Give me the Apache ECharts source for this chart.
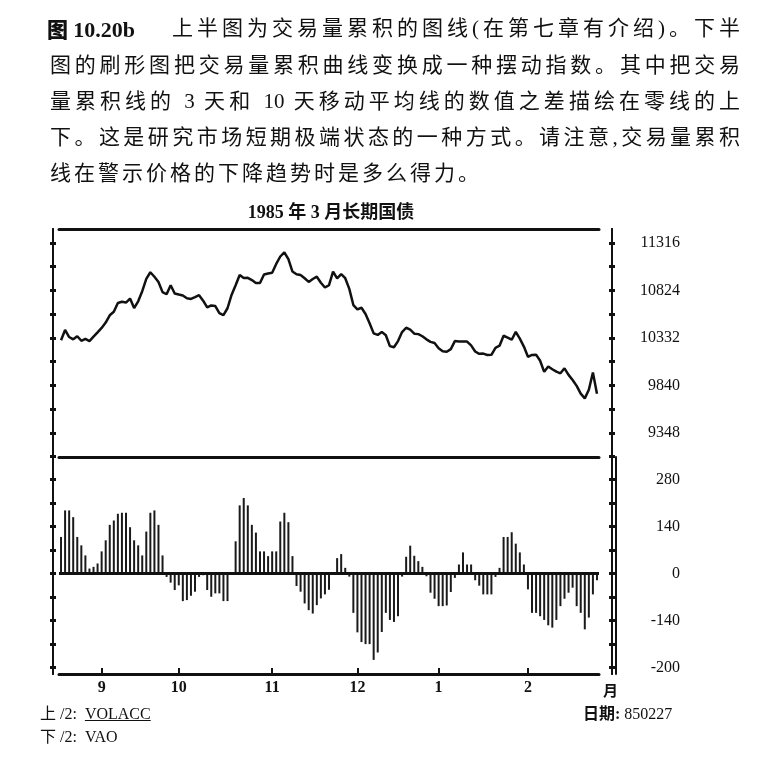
<!DOCTYPE html>
<html>
<head>
<meta charset="utf-8">
<script src="https://cdn.jsdelivr.net/npm/echarts@6/dist/echarts.min.js"></script>
<style>
body{margin:0;background:#fff;}
#wrap{position:relative;width:774px;height:770px;overflow:hidden;}
#chart{position:absolute;left:0;top:0;width:774px;height:770px;}
.cap{position:absolute;left:50px;width:690px;height:30px;line-height:30px;font-size:21px;color:#111;
  font-family:"Liberation Serif","Noto Sans CJK SC",serif;text-align:justify;text-align-last:justify;}
.ft{position:absolute;font-size:16px;line-height:22px;color:#111;font-family:"Liberation Serif","Noto Sans CJK SC",serif;}
</style>
</head>
<body>
<div id="wrap">
  <div id="chart"></div>
  <div class="cap" style="top:13px;left:47px;width:124px;text-align:left;text-align-last:left"><b style="font-family:'Noto Sans CJK SC';font-weight:900">图</b> <b style="font-size:22px">10.20b</b></div>
  <div class="cap" style="top:13px;left:172px;width:568px">上半图为交易量累积的图线(在第七章有介绍)。下半</div>
  <div class="cap" style="top:50px">图的刷形图把交易量累积曲线变换成一种摆动指数。其中把交易</div>
  <div class="cap" style="top:86px">量累积线的 3 天和 10 天移动平均线的数值之差描绘在零线的上</div>
  <div class="cap" style="top:122px">下。这是研究市场短期极端状态的一种方式。请注意,交易量累积</div>
  <div class="cap" style="top:158px;text-align:left;text-align-last:left;letter-spacing:3px">线在警示价格的下降趋势时是多么得力。</div>
  <div class="ft" style="top:703px;left:40px">上 /2:&nbsp; <u>VOLACC</u></div>
  <div class="ft" style="top:726px;left:40px">下 /2:&nbsp; VAO</div>
  <div class="ft" style="top:703px;left:583px"><b>日期:</b> 850227</div>
</div>
<script>
/* 交易日 (1984-08-20 ~ 1985-02-27) */
var holidays = ['1984-09-03','1984-11-22','1984-12-25','1985-01-01','1985-02-18'];
var days = [];
for (var t = Date.UTC(1984,7,20); t <= Date.UTC(1985,1,27); t += 86400000) {
  var d = new Date(t), s = d.toISOString().slice(0,10);
  if (d.getUTCDay() === 0 || d.getUTCDay() === 6 || holidays.indexOf(s) >= 0) continue;
  days.push(s);
}

/* 上半图: 交易量累积 VOLACC */
var volacc = [
  10308,10415,10342,10318,10350,10303,10322,10300,10345,10390,
  10436,10492,10567,10603,10695,10707,10699,10740,10642,10712,
  10817,10945,11013,10966,10911,10807,10785,10879,10793,10782,
  10772,10743,10736,10755,10775,10718,10648,10669,10663,10590,
  10568,10640,10778,10878,10985,10954,10955,10932,10902,10902,
  10990,11000,11007,11099,11176,11220,11148,11020,10992,10984,
  10951,10913,10943,10967,10904,10855,10880,11020,10950,10994,
  10951,10841,10673,10629,10645,10580,10485,10380,10364,10395,
  10360,10248,10236,10300,10393,10438,10418,10377,10372,10350,
  10318,10292,10280,10226,10195,10190,10217,10300,10295,10295,
  10295,10255,10192,10168,10170,10156,10157,10230,10252,10355,
  10336,10314,10395,10325,10243,10137,10156,10159,10096,9981,
  10037,10008,9983,9966,10018,9950,9897,9836,9755,9706,
  9795,9975,9755
];

/* 下半图: VAO 摆动指数 */
var vao = [
  109,188,188,168,109,84,54,15,20,30,
  66,99,145,158,178,181,181,138,99,84,
  54,125,181,188,145,54,-10,-27,-49,-35,
  -82,-79,-66,-54,-10,-5,-49,-69,-59,-59,
  -82,-82,-3,96,203,225,203,145,122,66,
  66,52,66,66,155,181,153,52,-37,-54,
  -89,-109,-119,-94,-74,-62,-48,3,46,58,
  17,-9,-117,-175,-204,-210,-210,-257,-235,-174,
  -117,-138,-144,-127,-9,50,83,53,37,20,
  -8,-57,-75,-97,-97,-95,-55,-13,27,63,
  27,27,-20,-36,-62,-62,-62,-10,17,109,
  109,123,89,63,27,-47,-117,-117,-127,-138,
  -154,-161,-138,-97,-75,-57,-42,-97,-117,-166,
  -131,-62,-20
];

/* 刻度 */
var upperTickVals = [9102,9348,9594,9840,10086,10332,10578,10824,11070,11316];
var upperLabelVals = [9348,9840,10332,10824,11316];
var lowerTickVals = [-280,-210,-140,-70,0,70,140,210,280];
var lowerLabelVals = [280,140,0,-140,-280];
var lowerLabelText = ['280','140','0','-140','-200'];

function isMonthStart(i){
  return i > 0 && days[i].slice(5,7) !== days[i-1].slice(5,7);
}

var ink = '#111';
var numFont = '"Liberation Serif","Noto Sans CJK SC",serif';

function yAx(grid, pos, off, min, max, ticks, inside, labels, fmt){
  return {
    type:'value', gridIndex:grid, position:pos, offset:off, min:min, max:max,
    splitLine:{show:false},
    axisLine:{show:true, onZero:false, lineStyle:{color:ink, width:2}},
    axisTick:{show:!!ticks, inside:inside, length:3, customValues:ticks || undefined, lineStyle:{color:ink, width:3}},
    axisLabel: labels ? {
      show:true, customValues:labels, formatter:fmt, align:'right', margin:68,
      fontFamily:numFont, fontSize:16, color:ink, padding:[0,0,9,0]
    } : {show:false}
  };
}

var chart = echarts.init(document.getElementById('chart'));
chart.setOption({
  animation:false,
  backgroundColor:'transparent',
  graphic:[{
    type:'text', x:331, y:213,
    style:{text:'1985 年 3 月长期国债', fill:ink, align:'center', verticalAlign:'middle',
      font:'bold 18px "Liberation Serif","Noto Sans CJK SC",serif'}
  }],
  grid:[
    {left:59, top:229, width:540, height:228},
    {left:59, top:457, width:540, height:217}
  ],
  xAxis:[
    {type:'category', gridIndex:0, position:'bottom', data:days,
      axisLine:{onZero:false, lineStyle:{color:ink, width:3}}, axisTick:{show:false}, axisLabel:{show:false}},
    {type:'category', gridIndex:0, position:'top', data:days,
      axisLine:{onZero:false, lineStyle:{color:ink, width:3}}, axisTick:{show:false}, axisLabel:{show:false}},
    {type:'category', gridIndex:1, position:'bottom', data:days,
      axisLine:{onZero:false, lineStyle:{color:ink, width:3}},
      axisTick:{show:true, inside:true, length:6, alignWithLabel:true,
        interval:function(i){return isMonthStart(i);}, lineStyle:{color:ink, width:2}},
      axisLabel:{show:true, interval:function(i){return isMonthStart(i);},
        formatter:function(v){return String(+v.slice(5,7));},
        margin:6, fontFamily:numFont, fontWeight:'bold', fontSize:16, color:ink},
      name:'月', nameLocation:'end', nameGap:4,
      nameTextStyle:{fontFamily:'"Noto Sans CJK SC"', fontWeight:'bold', fontSize:15, color:ink,
        verticalAlign:'top', padding:[9,0,0,0]}}
  ],
  yAxis:[
    yAx(0,'left',6,9099,11461,upperTickVals,false),
    yAx(0,'left',6,9099,11461,upperTickVals,true),
    yAx(0,'right',13,9099,11461,upperTickVals,false,upperLabelVals,function(v){return String(v);}),
    yAx(0,'right',13,9099,11461,upperTickVals,true),
    yAx(1,'left',6,-299,347,lowerTickVals,false),
    yAx(1,'left',6,-299,347,lowerTickVals,true),
    yAx(1,'right',13,-299,347,lowerTickVals,false,lowerLabelVals,function(v){
      return lowerLabelText[lowerLabelVals.indexOf(v)];}),
    yAx(1,'right',13,-299,347,lowerTickVals,true),
    yAx(1,'right',17,-299,347,null,false)
  ],
  series:[
    {type:'line', name:'VOLACC', xAxisIndex:0, yAxisIndex:0, data:volacc,
      symbol:'none', lineStyle:{color:ink, width:2.5}},
    {type:'bar', name:'VAO', xAxisIndex:2, yAxisIndex:4, data:vao, barWidth:2,
      itemStyle:{color:'#1a1a1a'},
      markLine:{silent:true, symbol:['none','none'], label:{show:false},
        lineStyle:{color:ink, width:3, type:'solid'}, data:[{yAxis:0}]}}
  ]
});
</script>
</body>
</html>
